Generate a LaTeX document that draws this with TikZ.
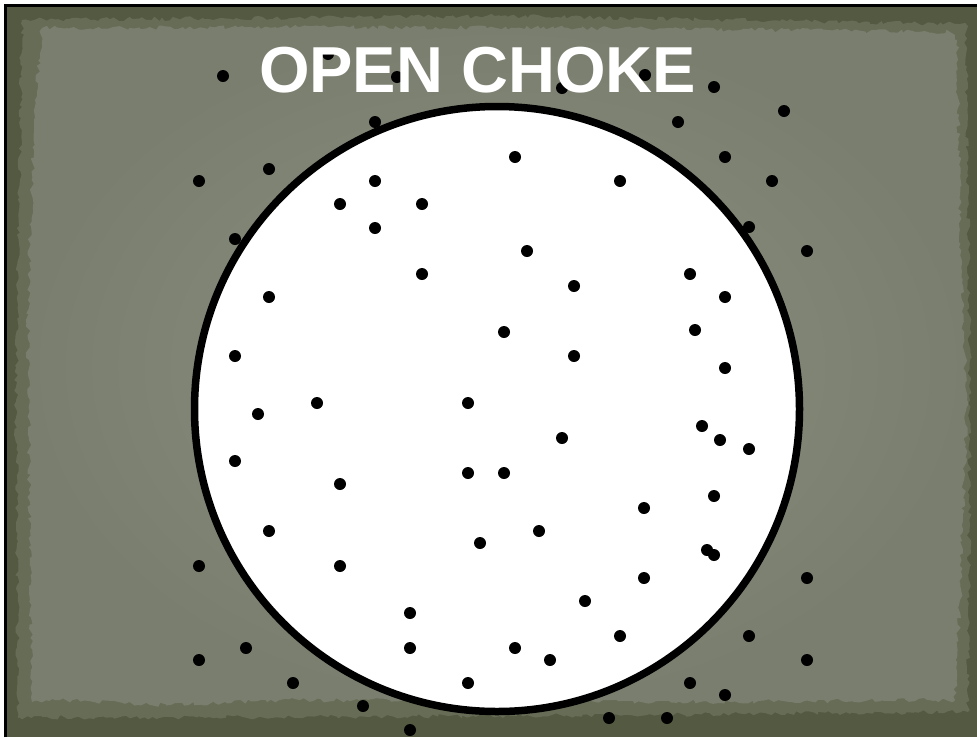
\documentclass[tikz,border=0pt]{standalone}
\usepackage{fontspec}
\setmainfont{Liberation Sans}
\usetikzlibrary{decorations.pathmorphing}
\definecolor{frameol}{RGB}{84,90,66}
\definecolor{midtone}{RGB}{102,108,86}
\definecolor{paperout}{RGB}{122,126,110}
\definecolor{paperin}{RGB}{140,144,129}
\begin{document}
\pgfmathsetseed{7}
\begin{tikzpicture}[x=1pt,y=-1pt,
  torn/.style={decorate, decoration={random steps, segment length=4pt, amplitude=2.2pt}},
  shot/.style={fill=black},
  titletext/.style={font=\bfseries\fontsize{65}{70}\selectfont, text=white, inner sep=0pt, anchor=base}]
\useasboundingbox (0,0) rectangle (977,737);
\fill[white] (0,0) rectangle (977,737);
\fill[frameol] (5,5) rectangle (977,737);
\fill[midtone, torn] (22,20) -- (500,16) -- (966,24) -- (970,400) -- (968,712) -- (500,716) -- (18,718) -- (16,400) -- cycle;
\shade[torn, inner color=paperin, outer color=paperout]
  (42,28) -- (300,27) -- (600,28) -- (950,32) -- (957,40) -- (962,300) -- (967,400) -- (960,600)
  -- (955,700) -- (700,702) -- (300,700) -- (150,705) -- (60,700) -- (32,702)
  -- (30,600) -- (28,300) -- (35,100) -- cycle;
\draw[line width=2.5pt] (5.25,737) -- (5.25,5.25) -- (977,5.25);
% pattern circle
\draw[line width=7.5pt, fill=white] (497,409) circle (302.5pt);
% shot pellets
\foreach \x/\y in {223/76,328/54,397/77,562/88,645/75,714/87,784/111,678/122,375/122,
  515/157,725/157,269/169,199/181,375/181,620/181,772/181,
  340/204,422/204,375/228,749/227,235/239,527/251,807/251,
  422/274,690/274,574/286,725/297,269/297,
  504/332,695/330,235/356,574/356,725/368,
  317/403,468/403,258/414,702/426,720/440,749/449,562/438,
  235/461,468/473,504/473,340/484,714/496,644/508,
  269/531,539/531,480/543,707/550,714/555,
  199/566,340/566,644/578,807/578,585/601,410/613,
  620/636,749/636,246/648,410/648,515/648,199/660,550/660,807/660,
  293/683,468/683,690/683,725/695,363/706,609/718,667/718,410/730}
  \fill[shot] (\x,\y) circle (6pt);
\node[titletext] (title) at (477.5,92) {OPEN CHOKE};
\end{tikzpicture}
\end{document}
